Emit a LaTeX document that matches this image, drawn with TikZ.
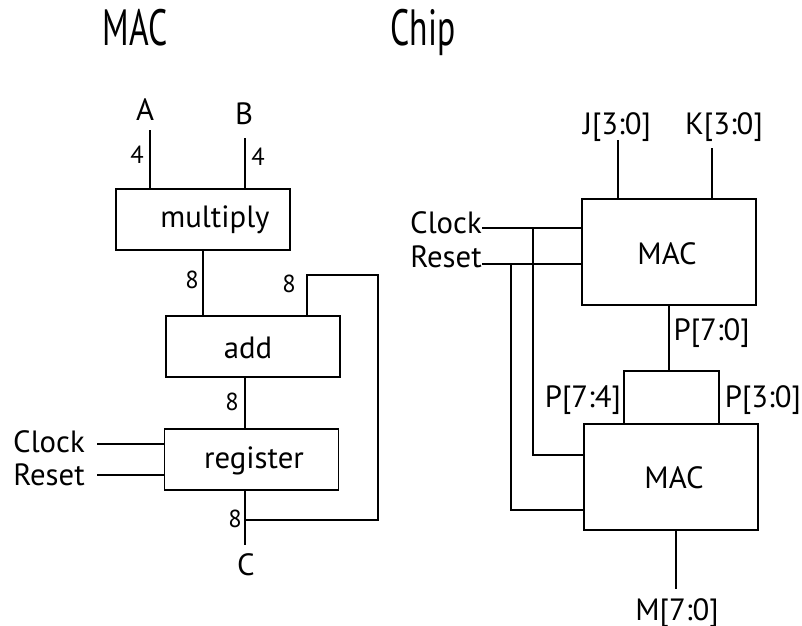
\documentclass[tikz,border=0pt]{standalone}
\usepackage{fontspec}
\setmainfont{PT Sans}
\usetikzlibrary{positioning}

\begin{document}
\begin{tikzpicture}[x=0.02cm, y=-0.02cm, line width=0.7pt,
  every node/.style={font=\fontsize{17.5}{20}\selectfont, inner sep=0pt},
  ttl/.style={font=\fontsize{29}{32}\selectfont, anchor=base},
  lbl/.style={anchor=base},
  bits/.style={font=\fontsize{14}{16}\selectfont, anchor=base},
  blk/.style={draw, minimum width=3.48cm, minimum height=1.22cm},
  bigblk/.style={draw, minimum width=3.48cm, minimum height=2.12cm}]
  \useasboundingbox (0,0) rectangle (802,626);
  % titles
  \node[ttl] (macttl) at (135,45) {\scalebox{0.66}[1]{MAC}};
  \node[ttl] (chipttl) at (423,45) {\scalebox{0.66}[1]{Chip}};

  % MAC datapath
  \node[blk] (mul) at (203,219.5) {};
  \node[lbl] (multxt) at (215,227) {multiply};
  \node[blk] (add) at (253,346.5) {};
  \node[lbl] (addtxt) at (248,358) {add};
  \node[blk] (reg) at (251.5,459.5) {};
  \node[lbl] (regtxt) at (254,468) {register};

  \node[lbl] (A) at (145,120) {A};
  \node[lbl] (B) at (244,124) {B};
  \node[bits] (wa) at (137,163) {4};
  \node[bits] (wb) at (258,165) {4};
  \node[bits] (wm) at (192,288) {8};
  \node[bits] (wf) at (289,292) {8};
  \node[bits] (ws) at (232,410) {8};
  \node[bits] (wr) at (235,527) {8};
  \node[lbl] (clk) at (49,452) {Clock};
  \node[lbl] (rst) at (49,485) {Reset};
  \node[lbl] (C) at (246,575) {C};

  \coordinate (aTop) at (150,130);
  \coordinate (bTop) at (245,138);
  \coordinate (fbCorner) at (307,275);
  \coordinate (fbRight) at (378,275);
  \coordinate (fbJoin) at (245,520);
  \coordinate (cEnd) at (245,545);
  \coordinate (clkA) at (97,444);
  \coordinate (rstA) at (97,475);

  \draw (aTop) -- (aTop |- mul.north);
  \draw (bTop) -- (bTop |- mul.north);
  \draw (mul.south) -- (mul.south |- add.north);
  \draw (fbCorner |- add.north) -- (fbCorner) -- (fbRight) |- (fbJoin);
  \draw (add.south -| fbJoin) -- (reg.north -| fbJoin);
  \draw (reg.south -| cEnd) -- (cEnd);
  \draw (clkA) -- (clkA -| reg.west);
  \draw (rstA) -- (rstA -| reg.west);

  % chip
  \node[bigblk] (mac1) at (669,252) {};
  \node[lbl] (mac1txt) at (667,264) {MAC};
  \node[draw, minimum width=1.9cm, minimum height=1.06cm] (split) at (671.5,397.5) {};
  \node[bigblk] (mac2) at (671,477) {};
  \node[lbl] (mac2txt) at (674,488) {MAC};

  \node[lbl] (J) at (617,134) {J[3:0]};
  \node[lbl] (K) at (724,134) {K[3:0]};
  \node[lbl] (clk2) at (446,233) {Clock};
  \node[lbl] (rst2) at (446,267) {Reset};
  \node[anchor=base west] (P) at (673,340) {P[7:0]};
  \node[lbl] (Phi) at (583,407) {P[7:4]};
  \node[lbl] (Plo) at (763,407) {P[3:0]};
  \node[lbl] (M) at (677,620) {M[7:0]};

  \coordinate (jTop) at (618,140);
  \coordinate (kTop) at (712,148);
  \coordinate (clkB) at (482,228);
  \coordinate (rstB) at (482,264);
  \coordinate (clkBr) at (533,228);
  \coordinate (clkLow) at (533,455);
  \coordinate (rstBr) at (511,264);
  \coordinate (rstLow) at (511,510);
  \coordinate (mOut) at (676,589);

  \draw (jTop) -- (jTop |- mac1.north);
  \draw (kTop) -- (kTop |- mac1.north);
  \draw (clkB) -- (clkB -| mac1.west);
  \draw (rstB) -- (rstB -| mac1.west);
  \draw (clkBr) -- (clkLow) -- (clkLow -| mac2.west);
  \draw (rstBr) -- (rstLow) -- (rstLow -| mac2.west);
  \draw (mac1.south) -- (mac1.south |- split.north);
  \draw (mOut |- mac2.south) -- (mOut);
\end{tikzpicture}
\end{document}
